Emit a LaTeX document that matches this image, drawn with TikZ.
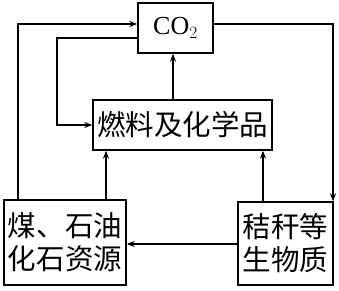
\documentclass[tikz,border=0pt]{standalone}
\usepackage{fontspec}
\setmainfont{Liberation Serif}
\newfontfamily\cjk{Noto Sans CJK SC}
\usetikzlibrary{arrows.meta}

\tikzset{
  box/.style={draw, line width=1.4pt, inner sep=0pt, align=center},
  arr/.style={line width=1.4pt, -{Stealth[length=8pt,width=6pt]}},
  zh/.style={font=\cjk\fontsize{28.5}{33}\selectfont}
}

\begin{document}
\begin{tikzpicture}[x=1pt,y=-1pt]
		\useasboundingbox (0,0) rectangle (339,290);
		
		\coordinate (outer_left) at (18,24);
		\coordinate (inner_left) at (57,38);
		\coordinate (outer_right) at (333,24);
		\coordinate (mid_up) at (173,0);
		\coordinate (coal_up) at (106,0);
		\coordinate (straw_up) at (263,0);
		\coordinate (cross) at (0,244);
		
		% Boxes
		\node[box, minimum width=75pt, minimum height=50pt,
		  font=\fontsize{26}{30}\selectfont] (co2) at (175.5,28) {CO$_2$};
		\node[box, zh, minimum width=179pt, minimum height=50pt] (fuel) at (182.5,125) {燃料及化学品};
		\node[box, zh, minimum width=122pt, minimum height=85pt] (coal) at (65,242.5) {煤、石油\\化石资源};
		\node[box, zh, minimum width=95pt, minimum height=83pt] (straw) at (285.5,243.5) {秸秆等\\生物质};
		
		% Outer loops
		\draw[arr] (coal.north -| outer_left) |- (co2.west |- outer_left);
		\draw[arr] (co2.east |- outer_right) -| (straw.north -| outer_right);
		\draw[arr] (co2.west |- inner_left) -| (inner_left |- fuel.west) -- (fuel.west);
		
		% Upward arrows
		\draw[arr] (fuel.north -| mid_up) -- (co2.south -| mid_up);
		\draw[arr] (coal.north -| coal_up) -- (fuel.south -| coal_up);
		\draw[arr] (straw.north -| straw_up) -- (fuel.south -| straw_up);
		
		% Bottom link
		\draw[arr] (straw.west |- cross) -- (coal.east |- cross);
		
	\end{tikzpicture}
\end{document}
